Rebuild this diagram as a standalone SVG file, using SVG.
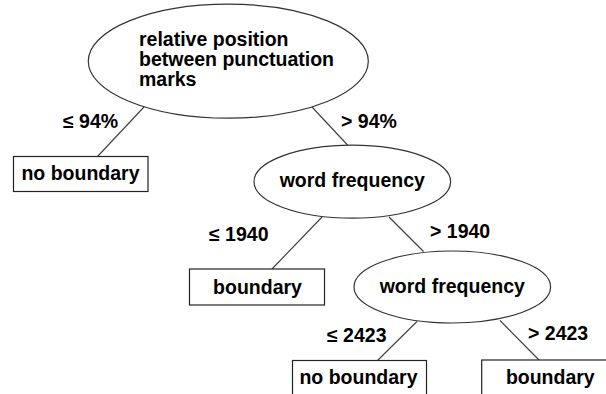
<svg xmlns="http://www.w3.org/2000/svg" width="606" height="394" viewBox="0 0 606 394">
<style>
.bg{fill:#fff}
.el{fill:#fff;stroke:#333;stroke-width:1.2}
.bx{fill:#fff;stroke:#222;stroke-width:1.2}
.t{font-family:"Liberation Sans",Arial,sans-serif;font-weight:bold;font-size:19.5px;fill:#000}
.m{text-anchor:middle}
.ln{stroke:#444;stroke-width:1.2;fill:none}
</style>
<rect class="bg" x="0" y="0" width="606" height="394"/>
<g id="connectors">
<line class="ln" x1="144" y1="107" x2="97" y2="157"/>
<line class="ln" x1="312" y1="107" x2="348" y2="145.5"/>
<line class="ln" x1="322" y1="217" x2="272" y2="269"/>
<line class="ln" x1="389" y1="217" x2="423.5" y2="251.5"/>
<line class="ln" x1="417" y1="321.5" x2="377" y2="361"/>
<line class="ln" x1="500" y1="320.5" x2="539" y2="360"/>
<text class="t" x="63" y="128">≤ 94%</text>
<text class="t" x="341" y="128">&gt; 94%</text>
<text class="t" x="209" y="240.5">≤ 1940</text>
<text class="t" x="430" y="237.5">&gt; 1940</text>
<text class="t" x="327" y="341.5">≤ 2423</text>
<text class="t" x="528" y="340">&gt; 2423</text>
</g>
<g id="root">
<ellipse class="el" cx="228.3" cy="61.2" rx="140" ry="57"/>
<text class="t" x="139" y="46">relative position</text>
<text class="t" x="139" y="66">between punctuation</text>
<text class="t" x="139" y="86">marks</text>
</g>
<g id="leaf1">
<rect class="bx" x="13.5" y="156.5" width="134.5" height="35"/>
<text class="t m" x="80.5" y="180">no boundary</text>
</g>
<g id="wf1">
<ellipse class="el" cx="352.3" cy="181.7" rx="98.3" ry="36.5"/>
<text class="t m" x="352.3" y="187">word frequency</text>
</g>
<g id="leaf2">
<rect class="bx" x="189.5" y="269" width="135" height="36"/>
<text class="t m" x="257.5" y="293.5">boundary</text>
</g>
<g id="wf2">
<ellipse class="el" cx="452.3" cy="287" rx="98.3" ry="36"/>
<text class="t m" x="452.3" y="292.5">word frequency</text>
</g>
<g id="leaf3">
<rect class="bx" x="292.5" y="360.5" width="134" height="40"/>
<text class="t m" x="358.5" y="384">no boundary</text>
</g>
<g id="leaf4">
<rect class="bx" x="481.7" y="360" width="136" height="40"/>
<text class="t m" x="550.3" y="384">boundary</text>
</g>
</svg>
